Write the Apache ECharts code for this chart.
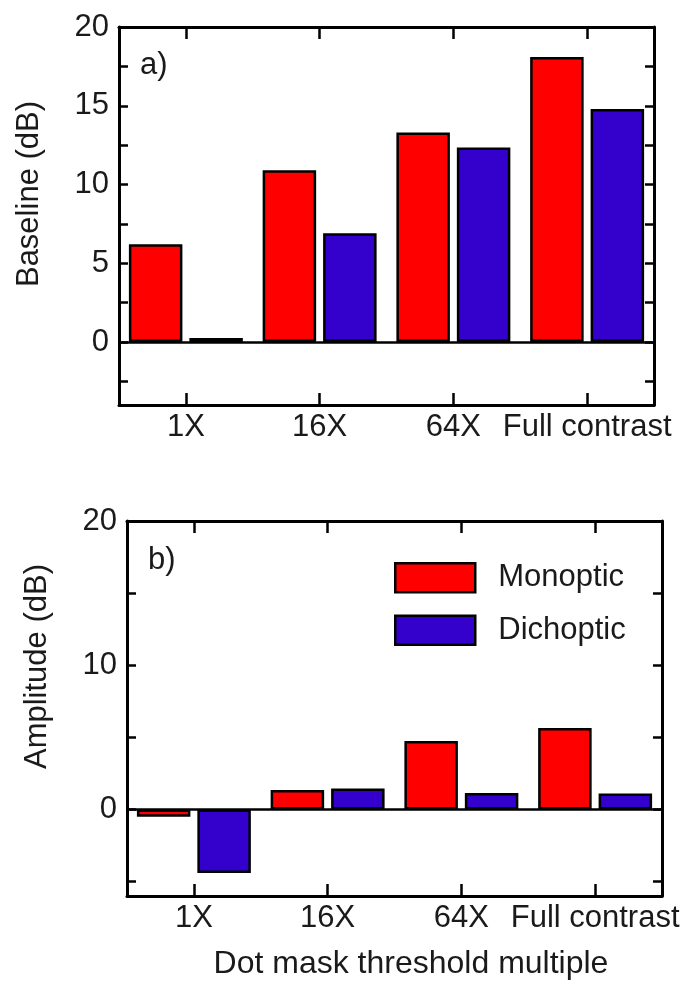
<!DOCTYPE html>
<html>
<head>
<meta charset="utf-8">
<script src="https://cdn.jsdelivr.net/npm/echarts@6/dist/echarts.min.js"></script>
<style>
  html, body { margin: 0; padding: 0; background: #fff; }
  #main { width: 689px; height: 981px; }
</style>
</head>
<body>
<div id="main"></div>
<script>
// categories and values
const categories = ['1X', '16X', '64X', 'Full contrast'];
const baselineMono = [6.2, 10.9, 13.3, 18.1];
const baselineDich = [0.25, 6.9, 12.35, 14.8];
const ampMono = [-0.5, 1.35, 4.75, 5.65];
const ampDich = [-4.4, 1.45, 1.15, 1.1];

// tick positions
const baselineTicks = [-2.5, 0, 2.5, 5, 7.5, 10, 12.5, 15, 17.5, 20];
const baselineLabels = [0, 5, 10, 15, 20];
const ampTicks = [-5, 0, 5, 10, 15, 20];
const ampLabels = [0, 10, 20];

const FONT = 'Liberation Sans';
const TXT = '#1a1a1a';
const RED = '#ff0000';
const BLUE = '#3300cc';

const chart = echarts.init(document.getElementById('main'));

const axisLineStyle = { color: '#000', width: 3 };
const tickStyle = { color: '#000', width: 2.5 };

function catAxis(gridIndex, position, showLabel, name) {
    return {
        type: 'category',
        gridIndex: gridIndex,
        position: position,
        data: categories,
        boundaryGap: true,
        axisLine: { show: true, onZero: false, lineStyle: axisLineStyle },
        axisTick: { show: true, inside: true, alignWithLabel: true, length: 12, lineStyle: tickStyle },
        axisLabel: { show: showLabel, color: TXT, fontFamily: FONT, fontSize: 31, margin: 7, interval: 0 },
        splitLine: { show: false },
        name: name || '',
        nameLocation: 'middle',
        nameGap: 52,
        nameTextStyle: { color: TXT, fontFamily: FONT, fontSize: 32, padding: [0, 0, 0, 33] }
    };
}

function valAxis(gridIndex, position, min, max, ticks, labels, showLabel, name, shift) {
    return {
        type: 'value',
        gridIndex: gridIndex,
        position: position,
        min: min,
        max: max,
        axisLine: { show: true, onZero: false, lineStyle: axisLineStyle },
        axisTick: { show: true, inside: true, length: 9, lineStyle: tickStyle, customValues: ticks },
        axisLabel: { show: showLabel, color: TXT, fontFamily: FONT, fontSize: 31, margin: 10, customValues: labels },
        splitLine: { show: false },
        name: name || '',
        nameLocation: 'middle',
        nameGap: 74,
        nameTextStyle: { color: TXT, fontFamily: FONT, fontSize: 31, padding: [0, 0, 0, shift || 0] }
    };
}

function barSeries(name, data, xi, yi, color, withZero) {
    const s = {
        name: name,
        type: 'bar',
        xAxisIndex: xi,
        yAxisIndex: yi,
        data: data,
        barWidth: '40%',
        barGap: '13%',
        itemStyle: { color: color, borderColor: '#000', borderWidth: 2.5 }
    };
    if (withZero) {
        s.markLine = {
            silent: true,
            symbol: ['none', 'none'],
            label: { show: false },
            lineStyle: { color: '#000', width: 2.5, type: 'solid' },
            data: [{ yAxis: 0 }]
        };
    }
    return s;
}

chart.setOption({
    backgroundColor: '#fff',
    animation: false,
    grid: [
        { left: 119, top: 27, width: 535, height: 378 },
        { left: 127, top: 521, width: 535, height: 377 }
    ],
    legend: {
        data: ['Monoptic', 'Dichoptic'],
        orient: 'vertical',
        left: 394,
        top: 562,
        padding: 0,
        itemWidth: 80,
        itemHeight: 29,
        itemGap: 21,
        icon: 'rect',
        selectedMode: false,
        itemStyle: { borderColor: '#000', borderWidth: 2.5 },
        textStyle: { color: TXT, fontFamily: FONT, fontSize: 31, padding: [0, 0, 0, 18] }
    },
    xAxis: [
        catAxis(0, 'bottom', true),
        catAxis(0, 'top', false),
        catAxis(1, 'bottom', true, 'Dot mask threshold multiple'),
        catAxis(1, 'top', false)
    ],
    yAxis: [
        valAxis(0, 'left', -4, 20, baselineTicks, baselineLabels, true, 'Baseline (dB)', 44),
        valAxis(0, 'right', -4, 20, baselineTicks, baselineLabels, false),
        valAxis(1, 'left', -6, 20, ampTicks, ampLabels, true, 'Amplitude (dB)', 84),
        valAxis(1, 'right', -6, 20, ampTicks, ampLabels, false)
    ],
    series: [
        barSeries('Monoptic', baselineMono, 0, 0, RED, true),
        barSeries('Dichoptic', baselineDich, 0, 0, BLUE, false),
        barSeries('Monoptic', ampMono, 2, 2, RED, true),
        barSeries('Dichoptic', ampDich, 2, 2, BLUE, false)
    ],
    graphic: [
        { type: 'text', left: 140, top: 50, style: { text: 'a)', fill: TXT, font: '31px "Liberation Sans"' } },
        { type: 'text', left: 148, top: 545, style: { text: 'b)', fill: TXT, font: '31px "Liberation Sans"' } }
    ]
});
</script>
</body>
</html>
